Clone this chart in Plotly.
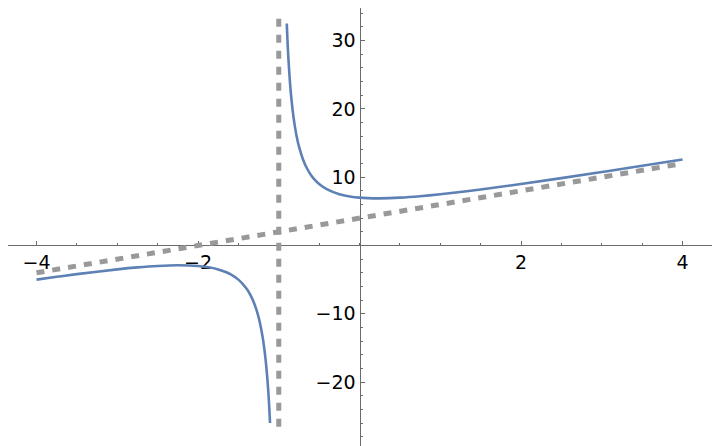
import plotly.graph_objects as go

# Curve samples
left_x = [-4, -3.75, -3.5, -3, -2.75, -2.5, -2.25, -2, -1.85, -1.75, -1.65, -1.6, -1.5, -1.4, -1.35, -1.3, -1.25, -1.2, -1.17, -1.15, -1.13, -1.12, -1.108]
left_y = [-5, -4.59, -4.2, -3.5, -3.21, -3, -2.9, -3, -3.23, -3.5, -3.92, -4.2, -5, -6.3, -7.27, -8.6, -10.5, -13.4, -15.99, -18.3, -21.34, -23.24, -25.99]
right_x = [-0.901, -0.89, -0.88, -0.86, -0.84, -0.82, -0.8, -0.78, -0.75, -0.7, -0.65, -0.6, -0.55, -0.5, -0.4, -0.25, -0.1, 0, 0.1, 0.25, 0.5, 0.75, 1, 1.5, 2, 2.5, 3, 3.5, 4]
right_y = [32.5, 29.49, 27.24, 23.71, 21.07, 19.03, 17.4, 16.08, 14.5, 12.6, 11.27, 10.3, 9.57, 9, 8.2, 7.5, 7.13, 7, 6.93, 6.9, 7, 7.21, 7.5, 8.2, 9, 9.86, 10.75, 11.67, 12.6]

# Asymptotes
slant_x = [-4, 4]
slant_y = [-4, 12]
vert_x = [-1, -1]
vert_y = [33.2, -26.6]

x_ticks = [-4, -2, 2, 4]
y_ticks = [-20, -10, 10, 20, 30]

x_range = [-4.353, 4.464]
y_range = [-29.36, 34.77]

blue = "#5E81B5"
grey = "#999999"
axis_col = "#6b6b6b"

fig = go.Figure()
fig.add_trace(go.Scatter(x=left_x, y=left_y, mode="lines", line=dict(color=blue, width=2.6, shape="spline"), showlegend=False))
fig.add_trace(go.Scatter(x=right_x, y=right_y, mode="lines", line=dict(color=blue, width=2.6, shape="spline"), showlegend=False))
fig.add_trace(go.Scatter(x=slant_x, y=slant_y, mode="lines", line=dict(color=grey, width=5, dash="8px,8px"), showlegend=False))
fig.add_trace(go.Scatter(x=vert_x, y=vert_y, mode="lines", line=dict(color=grey, width=5, dash="8px,8px"), showlegend=False))

xpos = (0 - y_range[0]) / (y_range[1] - y_range[0])
ypos = (0 - x_range[0]) / (x_range[1] - x_range[0])

font = dict(family="DejaVu Sans", size=19, color="black")

fig.update_layout(
    width=712, height=438,
    margin=dict(l=0, r=0, t=0, b=0),
    paper_bgcolor="white", plot_bgcolor="white",
    xaxis=dict(range=x_range, anchor="free", position=xpos, showline=True, linecolor=axis_col, linewidth=1,
               tickvals=x_ticks, ticktext=["\u22124", "\u22122", "2", "4"], ticks="inside", ticklen=4, tickcolor=axis_col,
               showgrid=False, zeroline=False, tickfont=font, layer="below traces",
               minor=dict(dtick=0.5, tick0=0, ticks="inside", ticklen=2.5, tickcolor=axis_col, showgrid=False)),
    yaxis=dict(range=y_range, anchor="free", position=ypos, showline=True, linecolor=axis_col, linewidth=1,
               tickvals=y_ticks, ticktext=["\u221220", "\u221210", "10", "20", "30"], ticks="inside", ticklen=4, tickcolor=axis_col,
               showgrid=False, zeroline=False, tickfont=font, layer="below traces",
               minor=dict(dtick=2, tick0=0, ticks="inside", ticklen=2.5, tickcolor=axis_col, showgrid=False)),
)

fig.write_html("out.html")
